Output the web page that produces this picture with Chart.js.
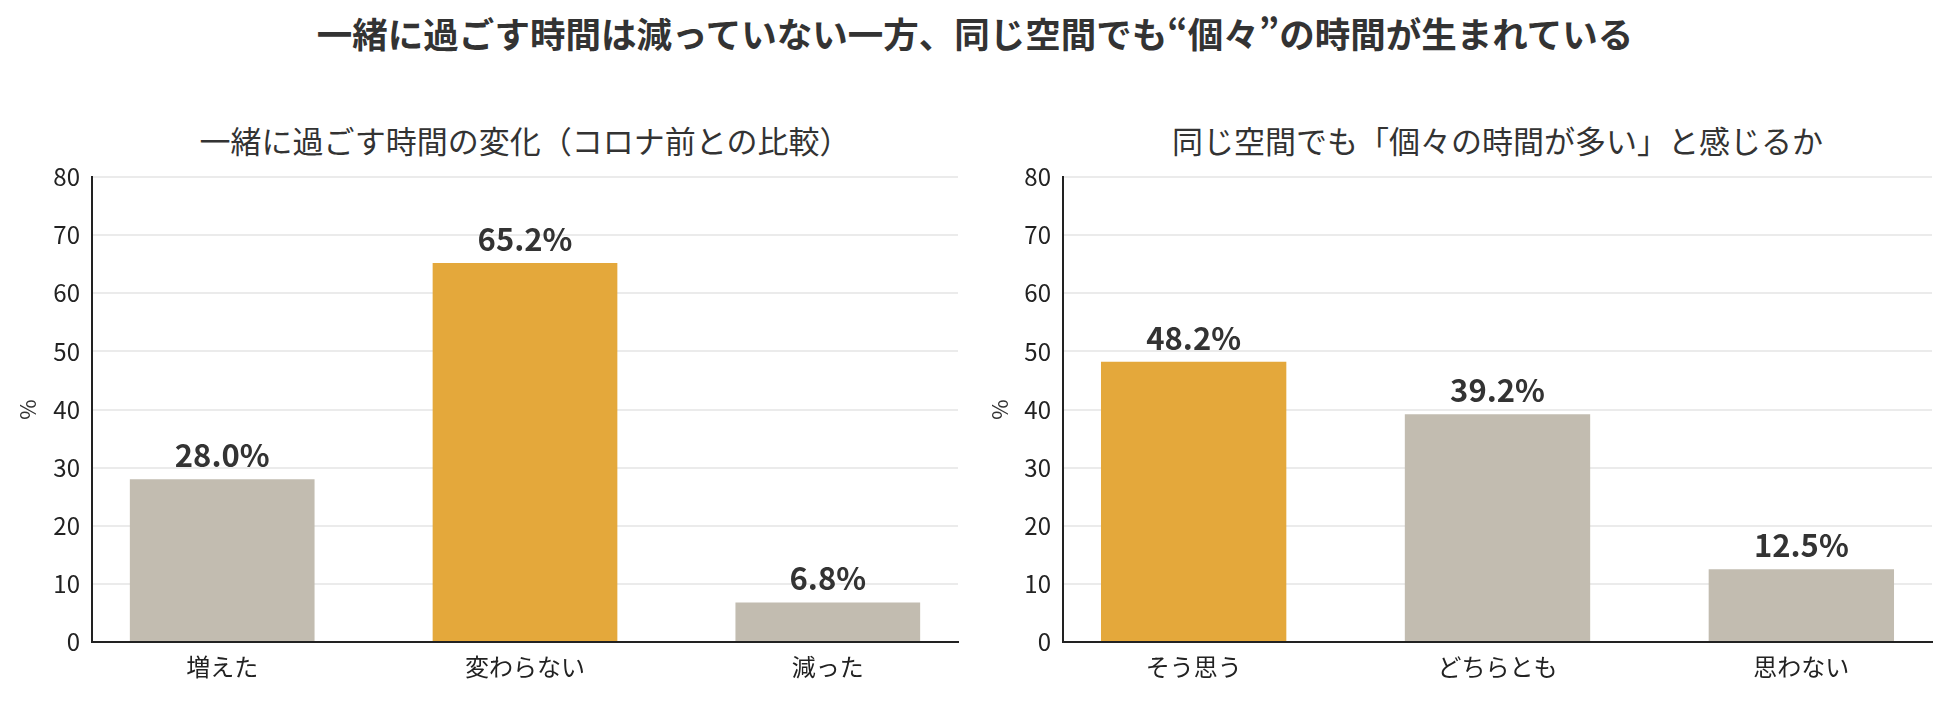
<!DOCTYPE html>
<html lang="ja">
<head>
<meta charset="utf-8">
<title>一緒に過ごす時間</title>
<script src="https://cdn.jsdelivr.net/npm/chart.js@4.4.1/dist/chart.umd.min.js"></script>
<style>
  body { margin: 0; background: #fff; width: 1950px; height: 707px; overflow: hidden; position: relative;
         font-family: "Noto Sans CJK JP", "Noto Sans", sans-serif; color: #333; }
  .title { position: absolute; left: 0; width: 1950px; top: 11px; text-align: center;
           font-size: 35.5px; font-weight: bold; line-height: 44px; }
  .sub { position: absolute; top: 121px; text-align: center; font-size: 31px; line-height: 38px; }
  .box { position: absolute; top: 0; width: 975px; height: 707px; }
</style>
</head>
<body>
<div class="title">一緒に過ごす時間は減っていない一方、同じ空間でも“個々”の時間が生まれている</div>
<div class="sub" style="left:92px;width:866px">一緒に過ごす時間の変化（コロナ前との比較）</div>
<div class="sub" style="left:1063px;width:869px">同じ空間でも「個々の時間が多い」と感じるか</div>
<div class="box" style="left:0"><canvas class="leftChart"></canvas></div>
<div class="box" style="left:975px"><canvas class="rightChart"></canvas></div>
<script>
// data
const leftCategories = ["増えた", "変わらない", "減った"];
const leftValues = [28.0, 65.2, 6.8];
const rightCategories = ["そう思う", "どちらとも", "思わない"];
const rightValues = [48.2, 39.2, 12.5];
const yTicks = [0, 10, 20, 30, 40, 50, 60, 70, 80];

const leftHighlight = 1;
const rightHighlight = 0;

const grayColor = "#c2bcb0";
const orangeColor = "#e4a83b";
const fontFamily = '"Noto Sans CJK JP", "Noto Sans", sans-serif';

// waarden boven de balken
const valueLabels = {
  id: "valueLabels",
  afterDatasetsDraw(chart) {
    const ctx = chart.ctx;
    const meta = chart.getDatasetMeta(0);
    ctx.save();
    ctx.font = "bold 31px " + fontFamily;
    ctx.fillStyle = "#333";
    ctx.textAlign = "center";
    ctx.textBaseline = "alphabetic";
    meta.data.forEach(function (bar, i) {
      const v = chart.data.datasets[0].data[i].y;
      ctx.fillText(v.toFixed(1) + "%", bar.x, bar.y - 12);
    });
    ctx.restore();
  }
};

function createChart(canvas, categories, values, highlight, axisWidth, titlePad, padRight) {
  const colors = categories.map((c, i) => i === highlight ? orangeColor : grayColor);
  return new Chart(canvas, {
    type: "bar",
    data: {
      datasets: [{
        data: values.map((v, i) => ({ x: i, y: v })),
        backgroundColor: colors,
        borderWidth: 0,
        categoryPercentage: 1,
        barPercentage: 0.61
      }]
    },
    options: {
      responsive: true,
      maintainAspectRatio: false,
      animation: false,
      layout: { padding: { top: 177, bottom: 15, left: 0, right: padRight } },
      plugins: { legend: { display: false }, tooltip: { enabled: false } },
      scales: {
        x: {
          type: "linear",
          offset: false,
          min: -0.43,
          max: categories.length - 1 + 0.43,
          afterBuildTicks: function (scale) {
            scale.ticks = categories.map((c, i) => ({ value: i }));
          },
          afterFit: function (scale) { scale.height = 50; },
          grid: { display: false, drawTicks: false, offset: false },
          border: { display: true, color: "#222", width: 2 },
          ticks: {
            padding: 10,
            color: "#222",
            font: { family: fontFamily, size: 24 },
            callback: function (v) { return categories[v]; }
          }
        },
        y: {
          min: 0,
          max: 80,
          afterBuildTicks: function (scale) {
            scale.ticks = yTicks.map(t => ({ value: t }));
          },
          afterFit: function (scale) { scale.width = axisWidth; },
          grid: { color: "#ebebeb", lineWidth: 2, drawTicks: false },
          border: { display: true, color: "#222", width: 2 },
          ticks: { padding: 12, color: "#222", font: { family: fontFamily, size: 24 } },
          title: {
            display: true,
            text: "%",
            color: "#333",
            font: { family: fontFamily, size: 22 },
            padding: { top: titlePad, bottom: 0 }
          }
        }
      }
    },
    plugins: [valueLabels]
  });
}

createChart(document.querySelector(".leftChart"), leftCategories, leftValues, leftHighlight, 92, 14, 17);
createChart(document.querySelector(".rightChart"), rightCategories, rightValues, rightHighlight, 88, 11, 18);
</script>
</body>
</html>
